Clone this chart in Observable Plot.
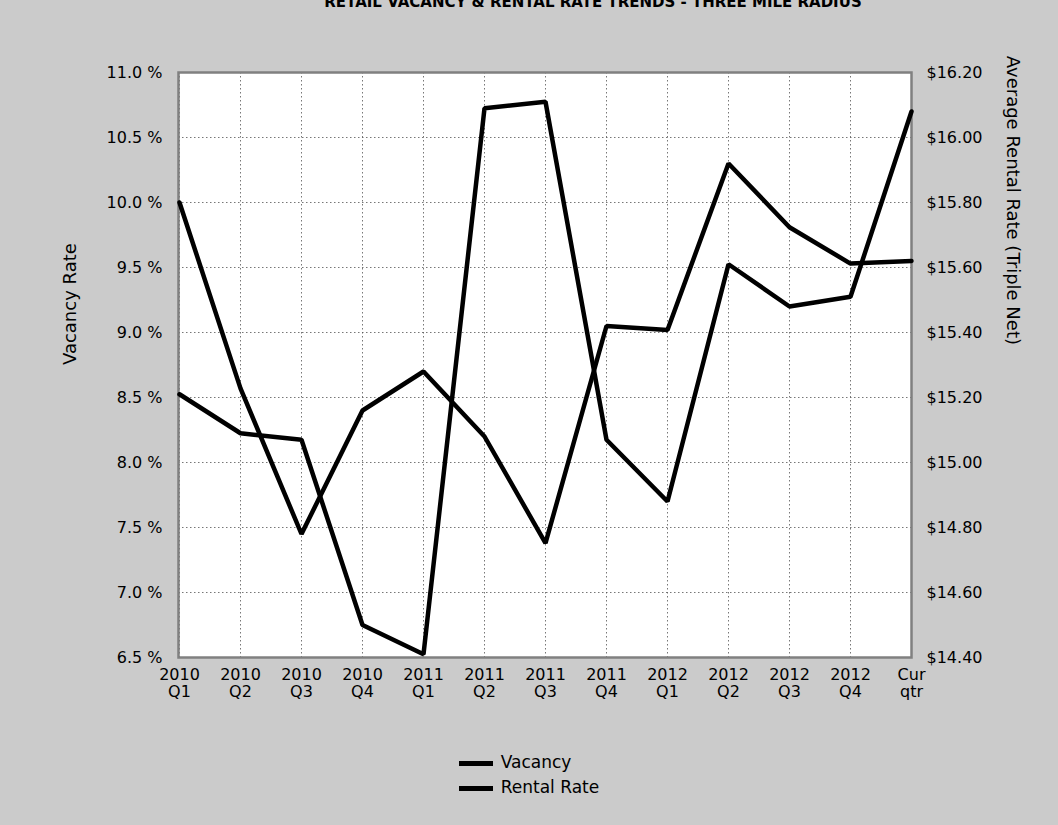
<!DOCTYPE html>
<html>
<head>
<meta charset="utf-8">
<script src="https://cdn.jsdelivr.net/npm/d3@7"></script>
<script src="https://cdn.jsdelivr.net/npm/@observablehq/plot@0.6"></script>
<style>
  html, body { margin: 0; padding: 0; background: #cbcbcb; width: 1058px; height: 825px; overflow: hidden; font-family: "DejaVu Sans", Verdana, sans-serif; color: #000; }
  #title { height: 14px; overflow: hidden; position: relative; }
  #title span { position: absolute; left: 128px; right: 0; top: -7px; text-align: center; font-weight: bold; font-size: 15px; line-height: 18px; white-space: nowrap; }
  #legend { text-align: center; margin-top: 36px; }
  #legend .box { display: inline-block; text-align: left; }
  #legend .item { height: 25px; line-height: 25px; font-size: 17px; white-space: nowrap; }
  #legend .sw { display: inline-block; width: 34px; height: 5px; background: #000; vertical-align: middle; margin-right: 8px; }
</style>
</head>
<body>
<div id="title"><span>RETAIL VACANCY &amp; RENTAL RATE TRENDS - THREE MILE RADIUS</span></div>
<div id="chart"></div>
<div id="legend"><div class="box">
  <div class="item"><span class="sw"></span>Vacancy</div>
  <div class="item"><span class="sw"></span>Rental Rate</div>
</div></div>
<script>
const categories = ["2010\nQ1","2010\nQ2","2010\nQ3","2010\nQ4","2011\nQ1","2011\nQ2","2011\nQ3","2011\nQ4","2012\nQ1","2012\nQ2","2012\nQ3","2012\nQ4","Cur\nqtr"];
const vacancy = [10.0, 8.57, 7.45, 8.40, 8.70, 8.20, 7.38, 9.05, 9.02, 10.30, 9.81, 9.53, 9.55];
const rentalRate = [15.21, 15.09, 15.07, 14.50, 14.41, 16.09, 16.11, 15.07, 14.88, 15.61, 15.48, 15.51, 16.08];
const vacancyTicks = [6.5, 7.0, 7.5, 8.0, 8.5, 9.0, 9.5, 10.0, 10.5, 11.0];
const rentTicks = [14.40, 14.60, 14.80, 15.00, 15.20, 15.40, 15.60, 15.80, 16.00, 16.20];

const vMin = 6.5, vMax = 11.0, rMin = 14.40, rMax = 16.20;
const rentToV = r => vMin + (r - rMin) * (vMax - vMin) / (rMax - rMin);
const vToRent = v => rMin + (v - vMin) * (rMax - rMin) / (vMax - vMin);

const vacData = categories.map((c, i) => ({cat: c, v: vacancy[i]}));
const rentData = categories.map((c, i) => ({cat: c, r: rentalRate[i]}));

const chart = Plot.plot({
  width: 1058,
  height: 700,
  marginTop: 58,
  marginBottom: 57,
  marginLeft: 178,
  marginRight: 147,
  style: {fontFamily: "DejaVu Sans, Verdana, sans-serif", fontSize: "16px", background: "transparent", color: "#000"},
  x: {type: "point", domain: categories, padding: 0},
  y: {domain: [vMin, vMax]},
  marks: [
    Plot.frame({fill: "white", stroke: null}),
    Plot.gridY(vacancyTicks, {stroke: "#555", strokeOpacity: 0.8, strokeDasharray: "1.5,2.5"}),
    Plot.gridX(categories, {stroke: "#555", strokeOpacity: 0.8, strokeDasharray: "1.5,2.5"}),
    Plot.frame({stroke: "#808080", strokeWidth: 2.5}),
    Plot.axisY(vacancyTicks, {anchor: "left", tickSize: 0, tickPadding: 16, tickFormat: d => d.toFixed(1) + " %", label: null, fontSize: 16}),
    Plot.axisY(rentTicks.map(rentToV), {anchor: "right", tickSize: 0, tickPadding: 15, tickFormat: d => "$" + vToRent(d).toFixed(2), label: null, fontSize: 16}),
    Plot.axisX(categories, {anchor: "bottom", tickSize: 0, tickPadding: 10, label: null, fontSize: 16, lineHeight: 1.08}),
    Plot.text(["Vacancy Rate"], {frameAnchor: "left", dx: -108, rotate: -90, fontSize: 18}),
    Plot.text(["Average Rental Rate (Triple Net)"], {frameAnchor: "right", dx: 101, dy: -20, rotate: 90, fontSize: 18}),
    Plot.line(vacData, {x: "cat", y: "v", stroke: "#000", strokeWidth: 4.5, strokeLinejoin: "miter"}),
    Plot.line(rentData, {x: "cat", y: d => rentToV(d.r), stroke: "#000", strokeWidth: 4.5, strokeLinejoin: "miter"})
  ]
});
document.getElementById("chart").appendChild(chart);
</script>
</body>
</html>
